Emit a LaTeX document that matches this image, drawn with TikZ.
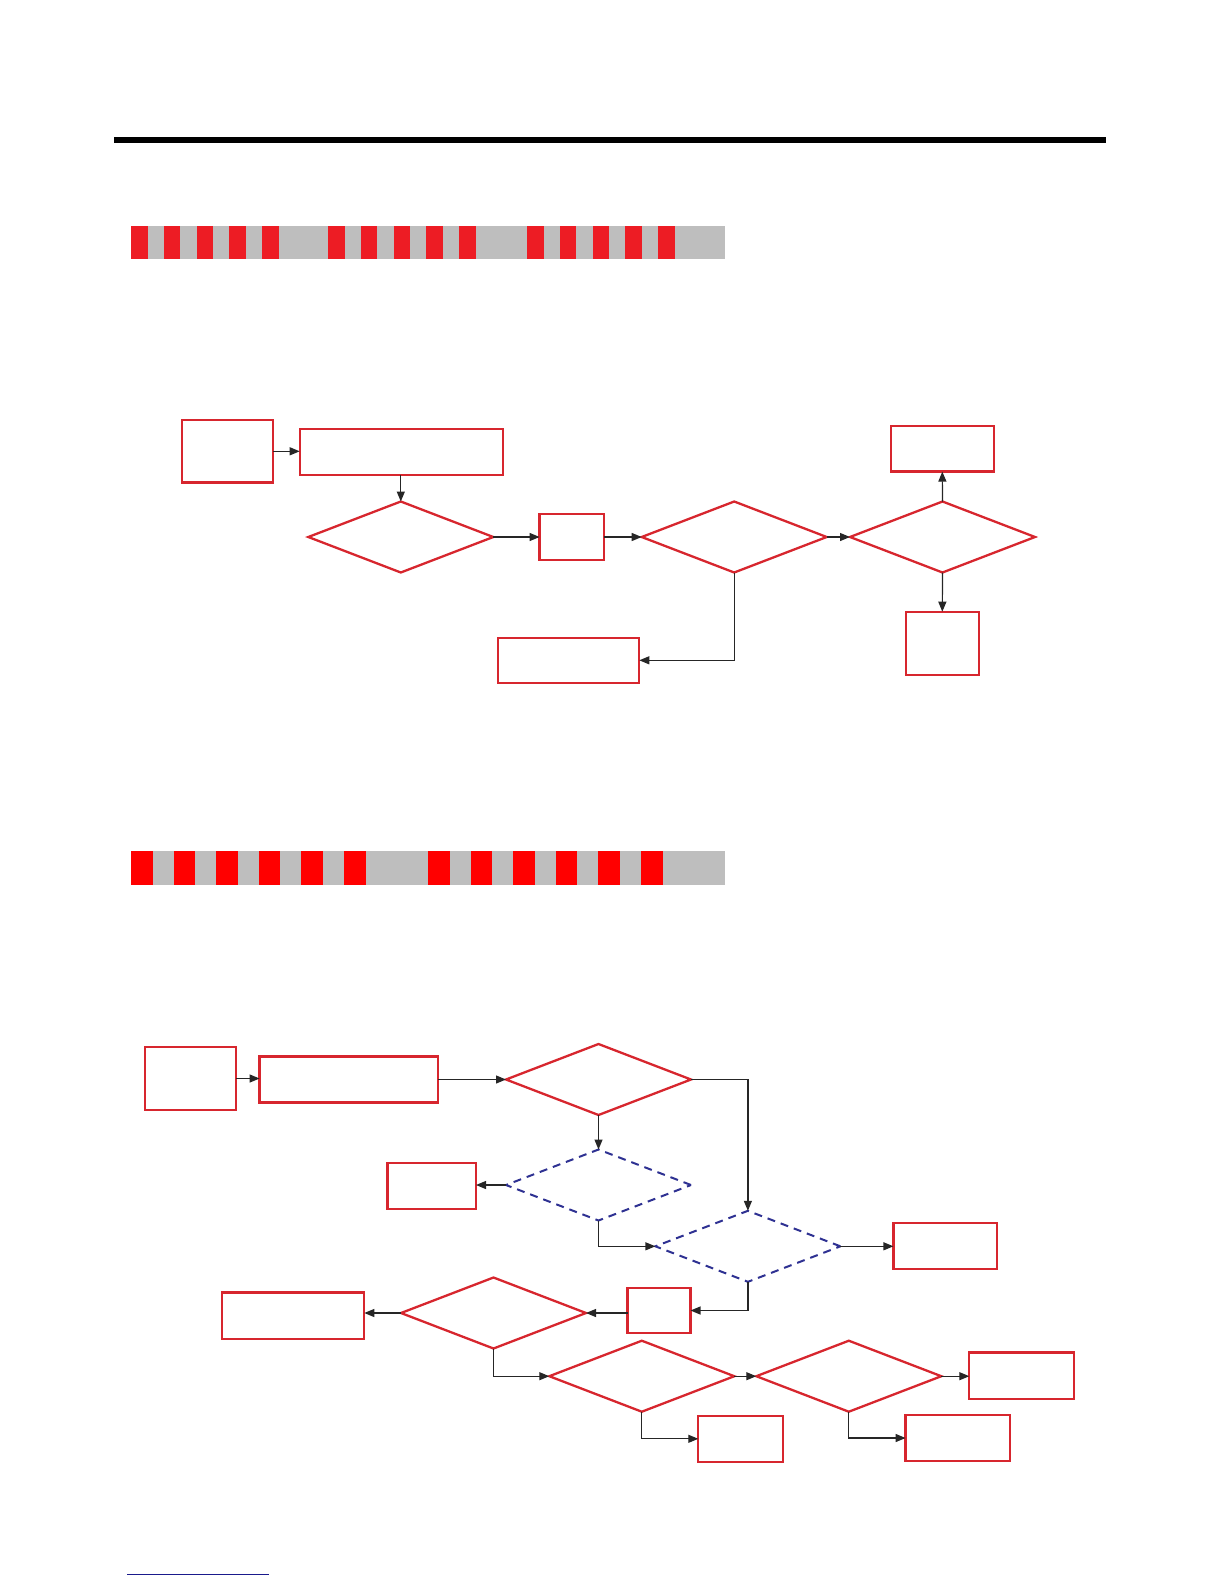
\documentclass[tikz,border=0pt]{standalone}
\usetikzlibrary{arrows.meta,shapes.geometric}
\definecolor{rojo}{HTML}{D7262E}
\definecolor{rojob}{HTML}{ED1C24}
\definecolor{rojoc}{HTML}{FF0000}
\definecolor{gris}{HTML}{BEBEBE}
\definecolor{azul}{HTML}{2E3192}
\definecolor{azulr}{HTML}{1A1A8C}

\begin{document}
\begin{tikzpicture}[x=0.5pt,y=-0.5pt,
    caja/.style={draw=rojo,line width=1.15pt,inner sep=0pt,outer sep=0pt},
    rombo/.style={caja,shape=diamond,minimum width=92.5pt,minimum height=35.5pt},
    rombod/.style={rombo,draw=azul,line width=1pt,dash pattern=on 4pt off 3pt},
    flecha/.style={draw=black!85,line width=0.6pt,-{Triangle[length=5pt,width=4pt]}}]
  \useasboundingbox (0,0) rectangle (1224,1584);

  % cabecera
  \fill (114,137.5) rectangle (1106,142.5);
  \fill[gris] (131,226) rectangle (725,259);
  \foreach \g in {131,328,527}
    \foreach \i in {0,...,4}
      \fill[rojob] ({\g+\i*32.8},226) rectangle ({\g+\i*32.8+16.5},259);

  % diagrama 1
  \node[caja,minimum width=45.8pt,minimum height=31.3pt] (a1) at (227.5,451.3) {};
  \node[caja,minimum width=101.6pt,minimum height=23pt] (b1) at (401.3,452) {};
  \node[rombo] (d1) at (400.8,537) {};
  \node[caja,minimum width=32.2pt,minimum height=23pt] (c1) at (571.8,537) {};
  \node[rombo] (d2) at (734.2,537) {};
  \node[rombo] (d3) at (942.5,537) {};
  \node[caja,minimum width=51.6pt,minimum height=22.8pt] (f1) at (942.3,448.8) {};
  \node[caja,minimum width=36.6pt,minimum height=31.6pt] (g1) at (942.3,643.3) {};
  \node[caja,minimum width=70.8pt,minimum height=22.6pt] (e1) at (568.5,660.3) {};

  \draw[flecha] (a1.east) -- (b1.west |- a1.east);
  \draw[flecha] (b1.south -| d1.north) -- (d1.north);
  \draw[flecha] (d1.east) -- (c1.west);
  \draw[flecha] (c1.east) -- (d2.west);
  \draw[flecha] (d2.east) -- (d3.west);
  \draw[flecha] (d3.north) -- (f1.south);
  \draw[flecha] (d3.south) -- (g1.north);
  \draw[flecha] (d2.south) |- (e1.east);

  % segunda cabecera
  \fill[gris] (131,851) rectangle (725,885);
  \foreach \g in {131,428}
    \foreach \i in {0,...,5}
      \fill[rojoc] ({\g+\i*42.6},851) rectangle ({\g+\i*42.6+21.5},885);

  % diagrama 2
  \node[caja,minimum width=45.6pt,minimum height=31.5pt] (h2) at (190.3,1078.5) {};
  \node[caja,minimum width=89.2pt,minimum height=23pt] (i2) at (348.8,1079.5) {};
  \node[rombo] (d4) at (598.5,1079.5) {};
  \node[rombod] (d5) at (598.5,1185) {};
  \node[caja,minimum width=44.2pt,minimum height=23pt] (j2) at (431.8,1185.7) {};
  \node[rombod] (d6) at (747.9,1246.3) {};
  \node[caja,minimum width=51.8pt,minimum height=23.3pt] (l2) at (945.2,1246) {};
  \node[caja,minimum width=31.5pt,minimum height=22.8pt] (m2) at (659,1310.5) {};
  \node[rombo] (d7) at (493.5,1313) {};
  \node[caja,minimum width=71.3pt,minimum height=23.2pt] (k2) at (293,1315.8) {};
  \node[rombo] (d8) at (641.8,1376.2) {};
  \node[rombo] (d9) at (848.8,1376.2) {};
  \node[caja,minimum width=42.4pt,minimum height=23pt] (n2) at (740.7,1438.8) {};
  \node[caja,minimum width=52.5pt,minimum height=23.2pt] (o2) at (1021.8,1375.8) {};
  \node[caja,minimum width=52.2pt,minimum height=23pt] (p2) at (957.8,1438) {};

  \draw[flecha] (h2.east) -- (i2.west |- h2.east);
  \draw[flecha] (i2.east) -- (d4.west);
  \draw[flecha] (d4.south) -- (d5.north);
  \draw[flecha] (d5.west) -- (j2.east |- d5.west);
  \draw[flecha] (d4.east) -| (d6.north);
  \draw[flecha] (d5.south) |- (d6.west);
  \draw[flecha] (d6.east) -- (l2.west |- d6.east);
  \draw[flecha] (d6.south) |- (m2.east);
  \draw[flecha] (m2.west |- d7.east) -- (d7.east);
  \draw[flecha] (d7.west) -- (k2.east |- d7.west);
  \draw[flecha] (d7.south) |- (d8.west);
  \draw[flecha] (d8.east) -- (d9.west);
  \draw[flecha] (d8.south) |- (n2.west);
  \draw[flecha] (d9.east) -- (o2.west |- d9.east);
  \draw[flecha] (d9.south) |- (p2.west);

  % pie
  \draw[azulr,line width=0.6pt] (127,1574.7) -- (269,1574.7);
\end{tikzpicture}
\end{document}
